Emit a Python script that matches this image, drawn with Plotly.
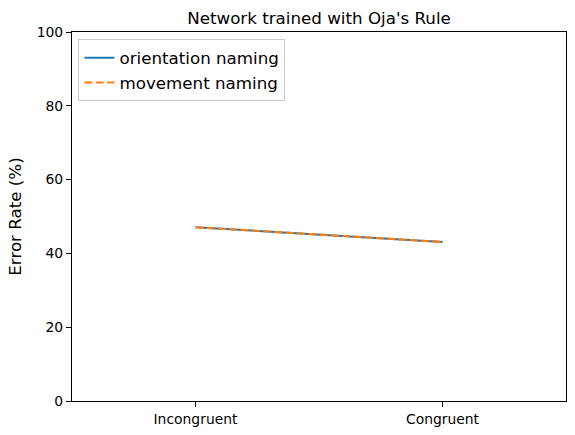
import plotly.graph_objects as go

categories = ["Incongruent", "Congruent"]
orientation_naming = [47.1, 43.1]
movement_naming = [47.1, 43.1]
y_ticks = [0, 20, 40, 60, 80, 100]

x_pos = list(range(len(categories)))

fig = go.Figure()
fig.add_trace(go.Scatter(x=x_pos, y=orientation_naming, mode="lines", name="orientation naming",
                         line=dict(color="#1f77b4", width=2.1)))
fig.add_trace(go.Scatter(x=x_pos, y=movement_naming, mode="lines", name="movement naming",
                         line=dict(color="#ff7f0e", width=2.1, dash="8px,3.3px")))

font = "DejaVu Sans"
fig.update_layout(
    width=575, height=435,
    margin=dict(l=72, r=9, t=32, b=34),
    paper_bgcolor="white", plot_bgcolor="white",
    font=dict(family=font, color="black", size=13.9),
    title=dict(text="Network trained with Oja's Rule", x=(72 + 566) / 2 / 575, xanchor="center",
               y=1 - 18 / 435, yanchor="middle", font=dict(size=16.7, family=font)),
    showlegend=True,
    legend=dict(x=0.013, y=0.98, xanchor="left", yanchor="top", bgcolor="rgba(255,255,255,0.8)",
                bordercolor="#cccccc", borderwidth=1, font=dict(size=16.7, family=font),
                tracegroupgap=2),
)
fig.update_xaxes(range=[-0.5, 1.5], tickvals=x_pos, ticktext=categories, showgrid=False,
                 zeroline=False, showline=True, linecolor="black", linewidth=1.1, mirror=True,
                 ticks="outside", ticklen=5, tickwidth=1.1, tickcolor="black")
fig.update_yaxes(range=[0, 100], tickvals=y_ticks, showgrid=False, zeroline=False,
                 showline=True, linecolor="black", linewidth=1.1, mirror=True,
                 ticks="outside", ticklen=5, tickwidth=1.1, tickcolor="black",
                 title=dict(text="Error Rate (%)", font=dict(size=16.7, family=font), standoff=10))

fig.write_html("out.html", config={"displayModeBar": False},
               post_script="document.body.style.margin='0';document.body.style.padding='0';")
